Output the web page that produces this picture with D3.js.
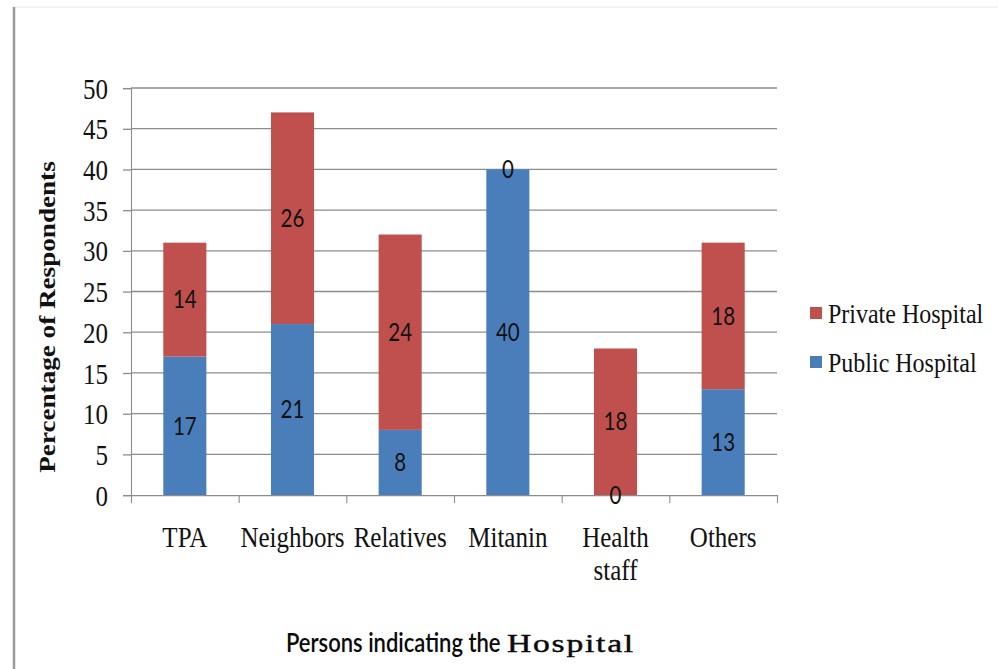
<!DOCTYPE html>
<html>
<head>
<meta charset="utf-8">
<script src="https://cdn.jsdelivr.net/npm/d3@7"></script>
<style>
  html, body { margin: 0; padding: 0; background: #fff; }
  svg { display: block; }
</style>
</head>
<body>
<div id="chart"></div>
<script>
// Data
const categories = ["TPA", "Neighbors", "Relatives", "Mitanin", "Health staff", "Others"];
const publicHospital = [17, 21, 8, 40, 0, 13];
const privateHospital = [14, 26, 24, 0, 18, 18];
const yTicks = [0, 5, 10, 15, 20, 25, 30, 35, 40, 45, 50];
const seriesNames = ["Private Hospital", "Public Hospital"];

const W = 998, H = 669;
const SY = 1.18;               // vertical stretch applied to the whole drawing
const h = H / SY;

const svg = d3.select("#chart").append("svg")
  .attr("width", W).attr("height", H);

const g = svg.append("g").attr("transform", `scale(1,${SY})`);

const serif = "'Liberation Serif', 'Times New Roman', serif";
const sans = "Lato, 'Open Sans', sans-serif";
const gridColor = "#8c8c8c";

// Frame lines
g.append("line").attr("x1", 14).attr("x2", W).attr("y1", 6).attr("y2", 6)
  .attr("stroke", "#ececec").attr("stroke-width", 1);
g.append("line").attr("x1", 14).attr("x2", 14).attr("y1", 6).attr("y2", h)
  .attr("stroke", "#9a9a9a").attr("stroke-width", 2.5);

const x0 = 131, x1 = 777;
const y = d3.scaleLinear().domain([0, 50]).range([495 / SY, 88 / SY]);
const x = d3.scaleBand().domain(categories).range([x0, x1])
  .paddingInner(0.6).paddingOuter(0.3);
const xEdge = d3.scaleLinear().domain([0, categories.length]).range([x0, x1]);

// Gridlines
g.append("g")
  .selectAll("line").data(yTicks.filter(d => d > 0)).join("line")
  .attr("x1", x0).attr("x2", x1)
  .attr("y1", d => y(d)).attr("y2", d => y(d))
  .attr("stroke", gridColor).attr("stroke-width", 1.1);

// Y axis
const yAxis = g.append("g").attr("transform", `translate(${x0},0)`)
  .call(d3.axisLeft(y).tickValues(yTicks).tickSize(8).tickPadding(15));
yAxis.select(".domain").attr("stroke", gridColor).attr("stroke-width", 1.1);
yAxis.selectAll(".tick line").attr("stroke", gridColor).attr("stroke-width", 1.1);
yAxis.selectAll(".tick text")
  .attr("font-family", serif).attr("font-size", 25).attr("fill", "#111")
  .attr("dy", "0.34em");

// X axis (category boundary ticks)
const xAxis = g.append("g").attr("transform", `translate(0,${y(0)})`)
  .call(d3.axisBottom(xEdge).tickValues(d3.range(categories.length + 1))
    .tickFormat("").tickSize(8 / SY).tickSizeOuter(0));
xAxis.select(".domain").attr("stroke", gridColor).attr("stroke-width", 1.1);
xAxis.selectAll(".tick line").attr("stroke", gridColor).attr("stroke-width", 1.1);

// Stacked bars
const rows = categories.map((c, i) => ({ cat: c, pub: publicHospital[i], priv: privateHospital[i] }));
const stack = d3.stack().keys(["pub", "priv"])(rows);
const colors = { pub: "#4a7ebb", priv: "#c0504d" };

stack.forEach(layer => {
  g.append("g").selectAll("rect").data(layer).join("rect")
    .attr("x", d => x(d.data.cat))
    .attr("width", x.bandwidth())
    .attr("y", d => y(d[1]))
    .attr("height", d => y(d[0]) - y(d[1]))
    .attr("fill", colors[layer.key]);
});

// Value labels centred on each segment
stack.forEach(layer => {
  g.append("g").selectAll("text").data(layer).join("text")
    .attr("x", d => x(d.data.cat) + x.bandwidth() / 2)
    .attr("y", d => (y(d[0]) + y(d[1])) / 2)
    .attr("dy", "0.36em")
    .attr("text-anchor", "middle")
    .attr("font-family", sans).attr("font-size", 20.5).attr("fill", "#111")
    .text(d => d.data[layer.key]);
});

// Category labels
const catLabels = g.append("g").selectAll("text").data(categories).join("text")
  .attr("x", d => x(d) + x.bandwidth() / 2)
  .attr("y", 547 / SY)
  .attr("text-anchor", "middle")
  .attr("font-family", serif).attr("font-size", 25).attr("fill", "#111");
catLabels.each(function(d) {
  const t = d3.select(this);
  const parts = d === "Health staff" ? ["Health", "staff"] : [d];
  parts.forEach((p, i) => {
    t.append("tspan").attr("x", x(d) + x.bandwidth() / 2)
      .attr("dy", i === 0 ? 0 : 28).text(p);
  });
});

// Axis titles
g.append("text")
  .attr("transform", `translate(55,${317 / SY}) rotate(-90)`)
  .attr("text-anchor", "middle")
  .attr("font-family", serif).attr("font-weight", "bold").attr("font-size", 23)
  .attr("fill", "#111")
  .text("Percentage of Respondents");

// X title: sans words followed by a wide serif "Hospital"
g.append("text")
  .attr("x", 286).attr("y", 652 / SY)
  .attr("fill", "#0a0a0a")
  .attr("font-family", sans).attr("font-size", 22).attr("font-weight", 600)
  .text("Persons indicating the");
g.append("text")
  .attr("transform", `translate(507,${652 / SY}) scale(1.6,1)`)
  .attr("fill", "#0a0a0a").attr("stroke", "#0a0a0a").attr("stroke-width", 0.35)
  .attr("font-family", serif).attr("font-size", 21).attr("letter-spacing", 1.1)
  .text("Hospital");

// Legend
const legend = g.append("g");
const legendKeys = ["priv", "pub"];
legendKeys.forEach((k, i) => {
  const cy = (313 + i * 49) / SY;
  legend.append("rect")
    .attr("x", 810).attr("y", cy - 6 / SY)
    .attr("width", 12).attr("height", 12 / SY)
    .attr("fill", colors[k]);
  legend.append("text")
    .attr("x", 828).attr("y", cy).attr("dy", "0.34em")
    .attr("font-family", serif).attr("font-size", 24).attr("fill", "#111")
    .text(seriesNames[i]);
});
</script>
</body>
</html>
